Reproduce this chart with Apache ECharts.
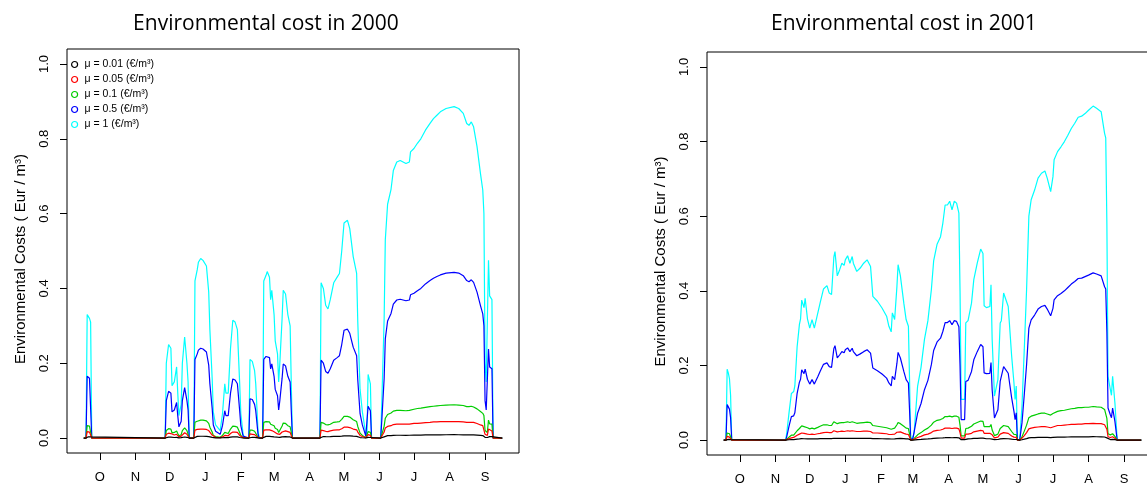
<!DOCTYPE html>
<html><head><meta charset="utf-8">
<script src="https://cdn.jsdelivr.net/npm/echarts@6/dist/echarts.min.js"></script>
<style>html,body{margin:0;padding:0;background:#fff;overflow:hidden}#chart{width:1170px;height:486px}</style>
</head><body><div id="chart"></div>
<script>
// ---- tick labels / categories ----
const monthLabels = ['O','N','D','J','F','M','A','M','J','J','A','S'];
const monthTicks2000 = [14,45,75,106,137,166,197,227,258,288,319,350];
const monthTicks2001 = [14,45,75,106,137,165,196,226,257,287,318,349];
const yTicks = [0,0.2,0.4,0.6,0.8,1.0];
const seriesNames = ['μ = 0.01 (€/m³)','μ = 0.05 (€/m³)','μ = 0.1 (€/m³)','μ = 0.5 (€/m³)','μ = 1 (€/m³)'];
const seriesColors = ['#000000','#FF0000','#00CD00','#0000FF','#00FFFF'];
const titles = ['Environmental cost in 2000','Environmental cost in 2001'];
const yName = 'Environmental Costs ( Eur / m³)';

// ---- 2000 (day index from 1 Oct) ----
const days2000 = [0,2,3,4,5,6,7,
71,72,74,76,77,79,81,82,83,85,86,88,89,90,91,92,
96,97,99,100,102,104,107,109,110,112,113,115,119,121,123,124,126,128,130,132,134,136,137,139,140,
144,145,147,149,150,152,153,
156,157,159,160,162,163,164,166,167,169,170,171,173,174,176,178,180,181,182,
206,207,209,211,213,215,218,221,223,225,227,230,232,235,238,239,241,243,246,247,248,250,251,
259,260,262,263,265,268,270,273,276,281,284,285,288,291,294,298,302,305,308,311,316,323,327,331,334,336,338,340,343,346,348,349,350,351,352,353,354,356,357,365];

const cost2000_mu1 = [0,0,0.33,0.33,0.32,0.31,0,
0,0.2,0.25,0.24,0.14,0.15,0.19,0.12,0.06,0.09,0.2,0.27,0.275,0.2,0.15,0,
0,0.42,0.45,0.47,0.48,0.475,0.46,0.39,0.29,0.16,0.07,0.035,0.02,0.065,0.145,0.12,0.12,0.24,0.315,0.31,0.29,0.145,0.065,0.01,0,
0,0.21,0.205,0.18,0.145,0.02,0,
0,0.42,0.435,0.445,0.43,0.37,0.395,0.33,0.26,0.225,0.15,0.2,0.32,0.395,0.385,0.33,0.3,0.145,0,
0,0.415,0.4,0.355,0.345,0.37,0.415,0.43,0.44,0.5,0.575,0.582,0.56,0.485,0.44,0.31,0.13,0.07,0.01,0,0.17,0.145,0,
0,0.1,0.32,0.53,0.625,0.665,0.715,0.738,0.742,0.734,0.738,0.765,0.774,0.788,0.8,0.823,0.841,0.854,0.863,0.872,0.881,0.886,0.881,0.868,0.841,0.836,0.845,0.832,0.779,0.707,0.663,0.6,0.2,0.15,0.145,0.475,0.38,0.37,0,0];

const cost2000_mu05 = [0,0,0.165,0.165,0.16,0.155,0,
0,0.1,0.125,0.12,0.07,0.075,0.095,0.06,0.03,0.045,0.1,0.135,0.138,0.1,0.075,0,
0,0.21,0.225,0.235,0.24,0.238,0.23,0.195,0.145,0.08,0.035,0.018,0.01,0.033,0.073,0.06,0.06,0.12,0.158,0.155,0.145,0.073,0.033,0.005,0,
0,0.105,0.103,0.09,0.073,0.01,0,
0,0.21,0.218,0.223,0.215,0.185,0.198,0.165,0.13,0.113,0.075,0.1,0.16,0.198,0.193,0.165,0.15,0.073,0,
0,0.208,0.2,0.178,0.173,0.185,0.208,0.215,0.22,0.25,0.288,0.291,0.28,0.243,0.22,0.155,0.065,0.035,0.005,0,0.085,0.073,0,
0,0.05,0.16,0.265,0.313,0.333,0.358,0.369,0.371,0.367,0.369,0.383,0.387,0.394,0.4,0.412,0.421,0.427,0.432,0.436,0.441,0.443,0.441,0.434,0.421,0.418,0.423,0.416,0.39,0.354,0.332,0.3,0.1,0.075,0.073,0.238,0.19,0.185,0,0];

const cost2000_mu01 = [0,0,0.033,0.033,0.032,0.031,0,
0,0.02,0.025,0.024,0.014,0.015,0.019,0.012,0.006,0.009,0.02,0.027,0.028,0.02,0.015,0,
0,0.042,0.045,0.047,0.048,0.048,0.046,0.039,0.029,0.016,0.007,0.004,0.002,0.007,0.015,0.012,0.012,0.024,0.032,0.031,0.029,0.015,0.007,0.001,0,
0,0.021,0.021,0.018,0.015,0.002,0,
0,0.042,0.044,0.045,0.043,0.037,0.04,0.033,0.026,0.023,0.015,0.02,0.032,0.04,0.039,0.033,0.03,0.015,0,
0,0.042,0.04,0.036,0.035,0.037,0.042,0.043,0.044,0.05,0.058,0.058,0.056,0.049,0.044,0.031,0.013,0.007,0.001,0,0.017,0.015,0,
0,0.01,0.032,0.053,0.063,0.067,0.072,0.074,0.074,0.073,0.074,0.077,0.077,0.079,0.08,0.082,0.084,0.085,0.086,0.087,0.088,0.089,0.088,0.087,0.084,0.084,0.085,0.083,0.078,0.071,0.066,0.06,0.02,0.015,0.015,0.048,0.038,0.037,0,0];

const cost2000_mu005 = [0,0,0.017,0.017,0.016,0.016,0,
0,0.01,0.013,0.012,0.007,0.008,0.01,0.006,0.003,0.005,0.01,0.014,0.014,0.01,0.008,0,
0,0.021,0.023,0.024,0.024,0.024,0.023,0.02,0.015,0.008,0.004,0.002,0.001,0.003,0.007,0.006,0.006,0.012,0.016,0.016,0.015,0.007,0.003,0.001,0,
0,0.011,0.01,0.009,0.007,0.001,0,
0,0.021,0.022,0.022,0.022,0.019,0.02,0.017,0.013,0.011,0.008,0.01,0.016,0.02,0.019,0.017,0.015,0.007,0,
0,0.021,0.02,0.018,0.017,0.019,0.021,0.022,0.022,0.025,0.029,0.029,0.028,0.024,0.022,0.016,0.007,0.004,0.001,0,0.009,0.007,0,
0,0.005,0.016,0.027,0.031,0.033,0.036,0.037,0.037,0.037,0.037,0.038,0.039,0.039,0.04,0.041,0.042,0.043,0.043,0.044,0.044,0.044,0.044,0.043,0.042,0.042,0.042,0.042,0.039,0.035,0.033,0.03,0.01,0.008,0.007,0.024,0.019,0.019,0,0];

const cost2000_mu001 = [0,0,0.0033,0.0033,0.0032,0.0031,0,
0,0.002,0.0025,0.0024,0.0014,0.0015,0.0019,0.0012,0.0006,0.0009,0.002,0.0027,0.0028,0.002,0.0015,0,
0,0.0042,0.0045,0.0047,0.0048,0.0048,0.0046,0.0039,0.0029,0.0016,0.0007,0.0004,0.0002,0.0007,0.0015,0.0012,0.0012,0.0024,0.0032,0.0031,0.0029,0.0015,0.0007,0.0001,0,
0,0.0021,0.0021,0.0018,0.0015,0.0002,0,
0,0.0042,0.0044,0.0045,0.0043,0.0037,0.004,0.0033,0.0026,0.0023,0.0015,0.002,0.0032,0.004,0.0039,0.0033,0.003,0.0015,0,
0,0.0042,0.004,0.0036,0.0035,0.0037,0.0042,0.0043,0.0044,0.005,0.0058,0.0058,0.0056,0.0049,0.0044,0.0031,0.0013,0.0007,0.0001,0,0.0017,0.0015,0,
0,0.001,0.0032,0.0053,0.0063,0.0067,0.0072,0.0074,0.0074,0.0073,0.0074,0.0077,0.0077,0.0079,0.008,0.0082,0.0084,0.0085,0.0086,0.0087,0.0088,0.0089,0.0088,0.0087,0.0084,0.0084,0.0085,0.0083,0.0078,0.0071,0.0066,0.006,0.002,0.0015,0.0015,0.0048,0.0038,0.0037,0,0];

// ---- 2001 (day index from 1 Oct) ----
const days2001 = [0,2,3,4,5,6,7,
54,55,57,59,61,62,64,66,67,68,70,71,73,75,77,79,82,84,87,90,92,94,96,97,99,101,103,105,106,108,110,112,113,116,119,122,125,128,130,134,138,142,144,146,147,149,151,152,154,157,159,161,162,163,
165,166,169,172,175,178,181,183,186,189,191,193,195,197,199,201,203,205,206,207,210,211,213,216,218,221,224,226,227,229,232,233,234,236,239,241,242,244,245,248,249,251,253,254,255,256,
258,260,262,264,266,268,271,274,277,280,282,285,287,288,291,294,297,300,303,306,309,312,315,318,322,325,329,332,333,334,335,337,338,339,341,343,364];

const cost2001_mu1 = [0,0,0.19,0.18,0.165,0.12,0,
0,0.02,0.075,0.125,0.13,0.145,0.25,0.31,0.325,0.375,0.355,0.38,0.325,0.3,0.323,0.3,0.34,0.367,0.405,0.414,0.394,0.39,0.49,0.505,0.44,0.456,0.474,0.468,0.483,0.494,0.474,0.492,0.474,0.452,0.461,0.474,0.483,0.465,0.385,0.372,0.354,0.332,0.305,0.29,0.341,0.323,0.412,0.47,0.44,0.367,0.323,0.305,0.16,0,
0.01,0.02,0.144,0.195,0.27,0.32,0.403,0.48,0.525,0.545,0.581,0.63,0.63,0.64,0.617,0.64,0.635,0.608,0.4,0.109,0.109,0.314,0.32,0.367,0.43,0.474,0.512,0.5,0.36,0.355,0.358,0.416,0.27,0.118,0.162,0.314,0.32,0.394,0.398,0.358,0.314,0.225,0.153,0.109,0.145,0,
0,0.091,0.243,0.403,0.6,0.644,0.67,0.702,0.715,0.721,0.702,0.666,0.706,0.751,0.773,0.786,0.8,0.817,0.835,0.849,0.865,0.868,0.875,0.884,0.895,0.889,0.88,0.822,0.81,0.58,0.171,0.136,0.12,0.171,0.1,0,0];

const cost2001_mu05 = [0,0,0.095,0.09,0.083,0.06,0,
0,0.01,0.038,0.063,0.065,0.073,0.125,0.155,0.163,0.188,0.178,0.19,0.163,0.15,0.162,0.15,0.17,0.184,0.203,0.207,0.197,0.195,0.245,0.253,0.22,0.228,0.237,0.234,0.242,0.247,0.237,0.246,0.237,0.226,0.231,0.237,0.242,0.233,0.193,0.186,0.177,0.166,0.153,0.145,0.171,0.162,0.206,0.235,0.22,0.184,0.162,0.153,0.08,0,
0.005,0.01,0.072,0.098,0.135,0.16,0.202,0.24,0.263,0.273,0.291,0.315,0.315,0.32,0.309,0.32,0.318,0.304,0.2,0.055,0.055,0.157,0.16,0.184,0.215,0.237,0.256,0.25,0.18,0.178,0.179,0.208,0.135,0.059,0.081,0.157,0.16,0.197,0.199,0.179,0.157,0.113,0.077,0.055,0.073,0,
0,0.046,0.122,0.202,0.3,0.322,0.335,0.351,0.358,0.361,0.351,0.333,0.353,0.376,0.387,0.393,0.4,0.409,0.418,0.425,0.433,0.434,0.438,0.442,0.448,0.445,0.44,0.411,0.405,0.29,0.086,0.068,0.06,0.086,0.05,0,0];

const cost2001_mu01 = [0,0,0.019,0.018,0.017,0.012,0,
0,0.002,0.008,0.013,0.013,0.015,0.025,0.031,0.033,0.038,0.036,0.038,0.033,0.03,0.032,0.03,0.034,0.037,0.041,0.041,0.039,0.039,0.049,0.051,0.044,0.046,0.047,0.047,0.048,0.049,0.047,0.049,0.047,0.045,0.046,0.047,0.048,0.047,0.039,0.037,0.035,0.033,0.031,0.029,0.034,0.032,0.041,0.047,0.044,0.037,0.032,0.031,0.016,0,
0.001,0.002,0.014,0.02,0.027,0.032,0.04,0.048,0.053,0.055,0.058,0.063,0.063,0.064,0.062,0.064,0.064,0.061,0.04,0.011,0.011,0.031,0.032,0.037,0.043,0.047,0.051,0.05,0.036,0.036,0.036,0.042,0.027,0.012,0.016,0.031,0.032,0.039,0.04,0.036,0.031,0.023,0.015,0.011,0.015,0,
0,0.009,0.024,0.04,0.06,0.064,0.067,0.07,0.072,0.072,0.07,0.067,0.071,0.075,0.077,0.079,0.08,0.082,0.084,0.085,0.087,0.087,0.088,0.088,0.09,0.089,0.088,0.082,0.081,0.058,0.017,0.014,0.012,0.017,0.01,0,0];

const cost2001_mu005 = [0,0,0.01,0.009,0.008,0.006,0,
0,0.001,0.004,0.006,0.007,0.007,0.013,0.016,0.016,0.019,0.018,0.019,0.016,0.015,0.016,0.015,0.017,0.018,0.02,0.021,0.02,0.02,0.025,0.025,0.022,0.023,0.024,0.023,0.024,0.025,0.024,0.025,0.024,0.023,0.023,0.024,0.024,0.023,0.019,0.019,0.018,0.017,0.015,0.015,0.017,0.016,0.021,0.024,0.022,0.018,0.016,0.015,0.008,0,
0.001,0.001,0.007,0.01,0.014,0.016,0.02,0.024,0.026,0.027,0.029,0.032,0.032,0.032,0.031,0.032,0.032,0.03,0.02,0.005,0.005,0.016,0.016,0.018,0.022,0.024,0.026,0.025,0.018,0.018,0.018,0.021,0.014,0.006,0.008,0.016,0.016,0.02,0.02,0.018,0.016,0.011,0.008,0.005,0.007,0,
0,0.005,0.012,0.02,0.03,0.032,0.034,0.035,0.036,0.036,0.035,0.033,0.035,0.038,0.039,0.039,0.04,0.041,0.042,0.042,0.043,0.043,0.044,0.044,0.045,0.044,0.044,0.041,0.041,0.029,0.009,0.007,0.006,0.009,0.005,0,0];

const cost2001_mu001 = [0,0,0.0019,0.0018,0.0017,0.0012,0,
0,0.0002,0.0008,0.0013,0.0013,0.0015,0.0025,0.0031,0.0033,0.0038,0.0036,0.0038,0.0033,0.003,0.0032,0.003,0.0034,0.0037,0.0041,0.0041,0.0039,0.0039,0.0049,0.0051,0.0044,0.0046,0.0047,0.0047,0.0048,0.0049,0.0047,0.0049,0.0047,0.0045,0.0046,0.0047,0.0048,0.0047,0.0039,0.0037,0.0035,0.0033,0.0031,0.0029,0.0034,0.0032,0.0041,0.0047,0.0044,0.0037,0.0032,0.0031,0.0016,0,
0.0001,0.0002,0.0014,0.002,0.0027,0.0032,0.004,0.0048,0.0053,0.0055,0.0058,0.0063,0.0063,0.0064,0.0062,0.0064,0.0064,0.0061,0.004,0.0011,0.0011,0.0031,0.0032,0.0037,0.0043,0.0047,0.0051,0.005,0.0036,0.0036,0.0036,0.0042,0.0027,0.0012,0.0016,0.0031,0.0032,0.0039,0.004,0.0036,0.0031,0.0023,0.0015,0.0011,0.0015,0,
0,0.0009,0.0024,0.004,0.006,0.0064,0.0067,0.007,0.0072,0.0072,0.007,0.0067,0.0071,0.0075,0.0077,0.0079,0.008,0.0082,0.0084,0.0085,0.0087,0.0087,0.0088,0.0088,0.009,0.0089,0.0088,0.0082,0.0081,0.0058,0.0017,0.0014,0.0012,0.0017,0.001,0,0];

// ---- build ----
const panels = [
  {days: days2000, ticks: monthTicks2000, lastDay: 365, grid: {left: 67, top: 49, width: 452, height: 404},
   values: [cost2000_mu001, cost2000_mu005, cost2000_mu01, cost2000_mu05, cost2000_mu1]},
  {days: days2001, ticks: monthTicks2001, lastDay: 364, grid: {left: 707, top: 52, width: 451, height: 404},
   values: [cost2001_mu001, cost2001_mu005, cost2001_mu01, cost2001_mu05, cost2001_mu1]}
];
const sansFont = 'Liberation Sans, Arial, sans-serif';
const axisFont = {fontFamily: sansFont, fontSize: 13, color: '#000'};

const option = {
  animation: false,
  backgroundColor: '#fff',
  title: [
    {text: titles[0], left: 261, top: 9, textAlign: 'center',
     textStyle: {fontFamily: 'Open Sans', fontSize: 21, fontWeight: 'normal', color: '#000'}},
    {text: titles[1], left: 899, top: 9, textAlign: 'center',
     textStyle: {fontFamily: 'Open Sans', fontSize: 21, fontWeight: 'normal', color: '#000'}}
  ],
  legend: {
    data: seriesNames.map((n, k) => ({name: n, icon: 'circle',
      itemStyle: {color: '#fff', borderColor: seriesColors[k], borderWidth: 1.2}})),
    orient: 'vertical', left: 71, top: 59,
    itemWidth: 10, itemHeight: 6, itemGap: 4, padding: 0,
    textStyle: {fontFamily: sansFont, fontSize: 10.5, color: '#000'}
  },
  grid: panels.map(p => Object.assign({show: true, borderColor: '#000', borderWidth: 1, backgroundColor: 'transparent'}, p.grid)),
  xAxis: panels.map((p, gi) => ({
    type: 'value', gridIndex: gi, min: -0.04 * p.lastDay, max: p.lastDay * 1.04,
    axisLine: {show: false, onZero: false}, splitLine: {show: false},
    axisTick: {show: true, inside: false, customValues: p.ticks, length: 7, lineStyle: {color: '#000', width: 1}},
    axisLabel: Object.assign({customValues: p.ticks, margin: 18,
      formatter: v => monthLabels[p.ticks.indexOf(v)] || ''}, axisFont)
  })),
  yAxis: panels.map((p, gi) => ({
    type: 'value', gridIndex: gi, min: -0.04, max: 1.04,
    axisLine: {show: false, onZero: false}, splitLine: {show: false},
    axisTick: {show: true, inside: false, customValues: yTicks, length: 7, lineStyle: {color: '#000', width: 1}},
    axisLabel: Object.assign({customValues: yTicks, rotate: 90, margin: 16,
      formatter: v => v.toFixed(1)}, axisFont),
    name: yName, nameLocation: 'middle', nameRotate: 90, nameGap: 39,
    nameTextStyle: {fontFamily: sansFont, fontSize: 15, color: '#000', padding: [0, 16, 0, 0]}
  })),
  series: []
};

panels.forEach((p, gi) => {
  for (let k = seriesNames.length - 1; k >= 0; k--) {
    option.series.push({
      type: 'line', name: seriesNames[k], xAxisIndex: gi, yAxisIndex: gi,
      data: p.days.map((d, i) => [d, p.values[k][i]]),
      showSymbol: false, symbol: 'emptyCircle', clip: true,
      lineStyle: {color: seriesColors[k], width: 1.2},
      itemStyle: {color: seriesColors[k]},
      z: 2 + (seriesNames.length - k)
    });
  }
});

const chart = echarts.init(document.getElementById('chart'), null, {renderer: 'canvas'});
chart.setOption(option);
</script></body></html>
